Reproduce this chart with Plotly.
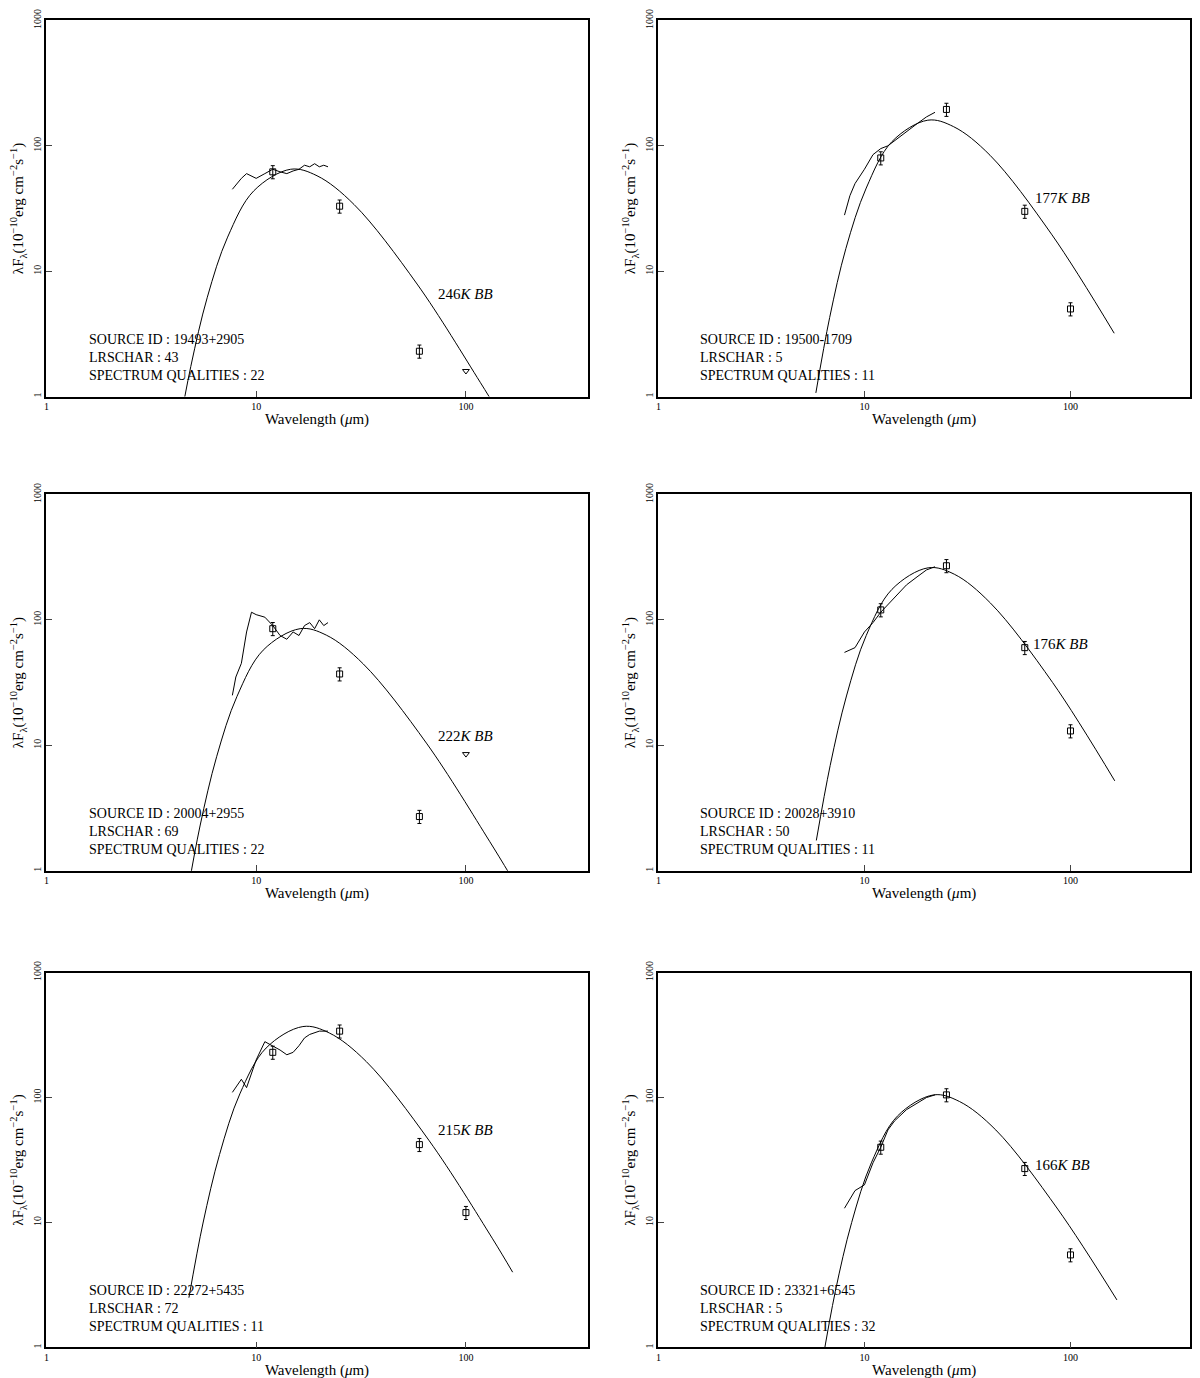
import math
import plotly.graph_objects as go

# ---------------- data ----------------
src_ids = ["19493+2905", "19500-1709", "20004+2955", "20028+3910", "22272+5435", "23321+6545"]
lrschar = [43, 5, 69, 50, 72, 5]
qualities = [22, 11, 22, 11, 11, 32]
bb_labels = ["246K BB", "177K BB", "222K BB", "176K BB", "215K BB", "166K BB"]
bb_label_pos = [(72, 6.6), (66, 38), (72, 11.8), (64, 64), (72, 55), (66, 28.6)]

# blackbody curves (wavelength um, flux)
bb_x = [
    [4.18, 4.88, 5.85, 7.31, 9.75, 14.6, 19.5, 29.3, 58.5, 117, 146],
    [5.81, 6.78, 8.13, 10.2, 13.6, 20.3, 27.1, 40.7, 81.3, 163],
    [4.63, 5.4, 6.48, 8.1, 10.8, 16.2, 21.6, 32.4, 64.8, 130, 162],
    [5.84, 6.82, 8.18, 10.2, 13.6, 20.4, 27.3, 40.9, 81.8, 164],
    [4.78, 5.58, 6.69, 8.36, 11.15, 16.7, 22.3, 33.5, 66.9, 134, 167],
    [6.19, 7.22, 8.67, 10.8, 14.45, 21.7, 28.9, 43.4, 86.7, 168],
]
bb_y = [
    [0.44, 1.74, 6.2, 18.7, 43.8, 65, 57.7, 34, 7.9, 1.3, 0.71],
    [1.07, 4.27, 15.2, 46, 108, 160, 142, 84, 19.5, 3.2],
    [0.57, 2.27, 8.1, 24.5, 57.3, 85, 75.5, 44.5, 10.4, 1.7, 0.93],
    [1.74, 6.9, 24.7, 75, 175, 260, 231, 136, 31.7, 5.2],
    [2.5, 9.9, 35, 107, 249, 370, 329, 194, 45, 7.4, 4.0],
    [0.7, 2.8, 10, 30, 71, 105, 93, 55, 12.8, 2.4],
]

# LRS spectra
spec_x = [
    [7.7, 8.5, 9, 10, 11, 12, 13, 14, 15, 16, 17, 18, 19, 20, 21, 22],
    [8, 8.5, 9, 10, 11, 12, 13, 14, 16, 18, 20, 22],
    [7.7, 8, 8.5, 9, 9.5, 10, 11, 12, 13, 14, 15, 16, 17, 18, 19, 20, 21, 22],
    [8, 9, 10, 11, 12, 14, 16, 18, 20, 22],
    [7.7, 8.5, 9, 10, 11, 12, 13, 14, 15, 16, 17, 18, 20, 22],
    [8, 9, 10, 11, 12, 13, 14, 16, 18, 20, 22],
]
spec_y = [
    [45, 55, 60, 55, 60, 65, 62, 60, 63, 65, 70, 68, 72, 68, 70, 68],
    [28, 40, 50, 65, 85, 95, 100, 110, 130, 150, 170, 185],
    [25, 35, 45, 80, 115, 110, 105, 90, 75, 70, 80, 75, 90, 95, 85, 100, 90, 95],
    [55, 60, 80, 95, 115, 150, 190, 220, 250, 265],
    [110, 140, 120, 200, 280, 260, 240, 220, 230, 260, 300, 320, 340, 340],
    [13, 18, 20, 30, 40, 55, 65, 80, 90, 100, 105],
]

# IRAS photometry (12, 25, 60, 100 um)
iras_x = [[12, 25, 60], [12, 25, 60, 100], [12, 25, 60], [12, 25, 60, 100], [12, 25, 60, 100], [12, 25, 60, 100]]
iras_y = [[62, 33, 2.3], [80, 195, 30, 5], [85, 37, 2.7], [120, 270, 60, 13], [230, 340, 42, 12], [40, 105, 27, 5.5]]
# upper limits (100 um)
ul_x = [[100], [], [100], [], [], []]
ul_y = [[1.6], [], [8.5], [], [], []]

# ---------------- layout ----------------
xdom = [[0.032, 0.483], [0.542, 0.985]]
ydom = [[0.718, 0.991], [0.374, 0.647], [0.028, 0.300]]
FONT = "Liberation Serif"

fig = go.Figure()
layout = dict(width=1200, height=1378, margin=dict(l=0, r=0, t=0, b=0, autoexpand=False),
              plot_bgcolor="white", paper_bgcolor="white", showlegend=False,
              font=dict(family=FONT, color="black"))
annotations = []

for i in range(6):
    row, col = i // 2, i % 2
    n = i + 1
    xa = "x" if n == 1 else f"x{n}"
    ya = "y" if n == 1 else f"y{n}"
    lk = dict(color="black", width=1)
    fig.add_trace(go.Scatter(x=bb_x[i], y=bb_y[i], mode="lines", line=dict(color="black", width=1, shape="spline"),
                             xaxis=xa, yaxis=ya))
    fig.add_trace(go.Scatter(x=spec_x[i], y=spec_y[i], mode="lines", line=lk, xaxis=xa, yaxis=ya))
    fig.add_trace(go.Scatter(x=iras_x[i], y=iras_y[i], mode="markers",
                             marker=dict(symbol="square-open", size=6, color="black", line=dict(width=1)),
                             error_y=dict(type="percent", value=12, color="black", thickness=1, width=2),
                             xaxis=xa, yaxis=ya))
    if ul_x[i]:
        fig.add_trace(go.Scatter(x=ul_x[i], y=ul_y[i], mode="markers",
                                 marker=dict(symbol="triangle-down-open", size=6, color="black", line=dict(width=1)),
                                 xaxis=xa, yaxis=ya))
    axis_common = dict(type="log", showline=True, mirror=True, linecolor="black", linewidth=1.5,
                       ticks="inside", ticklen=6, showgrid=False, zeroline=False, automargin=False,
                       tickfont=dict(family=FONT, size=10))
    layout[f"xaxis{n if n > 1 else ''}"] = dict(axis_common, domain=xdom[col], range=[0, 2.58],
                                                anchor=ya, tickvals=[1, 10, 100], ticktext=["1", "10", "100"],
                                                title=dict(text="Wavelength (<i>μ</i>m)", standoff=2,
                                                           font=dict(family=FONT, size=15)))
    layout[f"yaxis{n if n > 1 else ''}"] = dict(axis_common, domain=ydom[row], range=[0, 3],
                                                anchor=xa, tickvals=[1, 10, 100, 1000], tickangle=-90,
                                                title=dict(text="λF<sub>λ</sub>(10<sup>−10</sup>erg cm<sup>−2</sup>s<sup>−1</sup>)",
                                                           standoff=4, font=dict(family=FONT, size=15)))
    annotations.append(dict(xref=f"{xa} domain", yref=f"{ya} domain", x=0.075, y=0.03,
                            xanchor="left", yanchor="bottom", showarrow=False, align="left",
                            font=dict(family=FONT, size=14),
                            text=f"SOURCE ID : {src_ids[i]}<br>LRSCHAR : {lrschar[i]}<br>SPECTRUM QUALITIES : {qualities[i]}"))
    bx, by = bb_label_pos[i]
    t, k = bb_labels[i].split("K")
    annotations.append(dict(xref=xa, yref=ya, x=math.log10(bx), y=math.log10(by),
                            xanchor="left", showarrow=False, font=dict(family=FONT, size=15),
                            text=f"{t}<i>K BB</i>"))

layout["annotations"] = annotations
fig.update_layout(**layout)
fig.write_html("out.html")
